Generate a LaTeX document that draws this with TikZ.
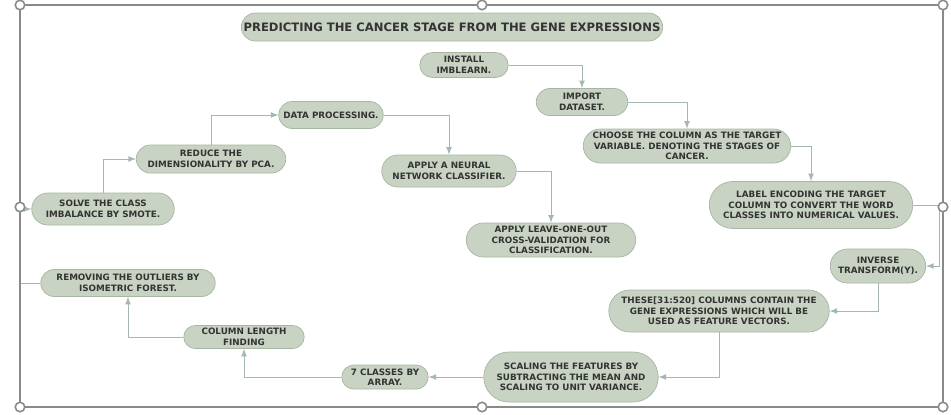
\documentclass[tikz,border=0pt]{standalone}
\usepackage{fontspec}
\setmainfont{DejaVu Sans}
\usetikzlibrary{shapes.misc}

\definecolor{pillfill}{HTML}{C9D3C4}
\definecolor{pillline}{HTML}{A6B6A2}
\definecolor{pilltext}{HTML}{333333}
\definecolor{connline}{HTML}{A3B8B0}
\definecolor{framegray}{HTML}{8A8A8A}

\tikzset{
pill/.style={
draw=pillline,
fill=pillfill,
rounded rectangle,
align=center,
inner sep=1pt,
text=pilltext,
font=\fontsize{5}{6}\selectfont\bfseries
},
conn/.style={
draw=connline,
line width=0.5pt,
-latex
},
handle/.style={
circle,
draw=framegray,
fill=white,
line width=0.9pt,
minimum size=0.19cm,
inner sep=0pt
}
}

\begin{document}
\begin{tikzpicture}[x=0.02cm,y=-0.02cm]

\useasboundingbox (0,0) rectangle (951,414);

\node[pill, minimum width=8.5cm, minimum height=0.56cm,
font=\fontsize{6.6}{7.5}\selectfont\bfseries] (T) at (452,27)
{PREDICTING THE CANCER STAGE FROM THE GENE EXPRESSIONS};

\node[pill, minimum width=1.84cm, minimum height=0.5cm] (In) at (464,65)
{INSTALL\\IMBLEARN.};

\node[pill, minimum width=1.9cm, minimum height=0.54cm] (Im) at (582,102)
{IMPORT\\DATASET.};

\node[pill, minimum width=4.22cm, minimum height=0.68cm] (Ch) at (687,146)
{CHOOSE THE COLUMN AS THE TARGET\\VARIABLE. DENOTING THE STAGES OF\\CANCER.};

\node[pill, minimum width=4.14cm, minimum height=0.94cm] (Le) at (811,205)
{LABEL ENCODING THE TARGET\\COLUMN TO CONVERT THE WORD\\CLASSES INTO NUMERICAL VALUES.};

\node[pill, minimum width=1.98cm, minimum height=0.68cm] (Iv) at (878,266)
{INVERSE\\TRANSFORM(Y).};

\node[pill, minimum width=4.48cm, minimum height=0.84cm] (Th) at (719,311)
{THESE[31:520] COLUMNS CONTAIN THE\\GENE EXPRESSIONS WHICH WILL BE\\USED AS FEATURE VECTORS.};

\node[pill, minimum width=3.56cm, minimum height=1cm] (Sc) at (571,377)
{SCALING THE FEATURES BY\\SUBTRACTING THE MEAN AND\\SCALING TO UNIT VARIANCE.};

\node[pill, minimum width=1.8cm, minimum height=0.48cm] (Cl) at (385,377)
{7 CLASSES BY\\ARRAY.};

\node[pill, minimum width=2.48cm, minimum height=0.46cm] (Co) at (244,337)
{COLUMN LENGTH\\FINDING};

\node[pill, minimum width=3.56cm, minimum height=0.54cm] (Ro) at (128,283)
{REMOVING THE OUTLIERS BY\\ISOMETRIC FOREST.};

\node[pill, minimum width=2.92cm, minimum height=0.64cm] (So) at (103,209)
{SOLVE THE CLASS\\IMBALANCE BY SMOTE.};

\node[pill, minimum width=3.06cm, minimum height=0.56cm] (Re) at (211,159)
{REDUCE THE\\DIMENSIONALITY BY PCA.};

\node[pill, minimum width=2.16cm, minimum height=0.54cm] (Dp) at (331,115)
{DATA PROCESSING.};

\node[pill, minimum width=2.76cm, minimum height=0.64cm] (Nn) at (449,171)
{APPLY A NEURAL\\NETWORK CLASSIFIER.};

\node[pill, minimum width=3.46cm, minimum height=0.68cm] (Lo) at (551,240)
{APPLY LEAVE-ONE-OUT\\CROSS-VALIDATION FOR\\CLASSIFICATION.};

% bends along the frame
\coordinate (rb) at (939,205);
\coordinate (lb) at (20,283);

\draw[conn] (In.east) -| (Im.north);
\draw[conn] (Im.east) -| (Ch.north);
\draw[conn] (Ch.east) -| (Le.north);
\draw[conn] (Le.east) -- (rb) |- (Iv.east);
\draw[conn] (Iv.south) |- (Th.east);
\draw[conn] (Th.south) |- (Sc.east);
\draw[conn] (Sc.west) -- (Cl.east);
\draw[conn] (Cl.west) -| (Co.south);
\draw[conn] (Co.west) -| (Ro.south);
\draw[conn] (Ro.west) -- (lb) |- (So.west);
\draw[conn] (So.north) |- (Re.west);
\draw[conn] (Re.north) |- (Dp.west);
\draw[conn] (Dp.east) -| (Nn.north);
\draw[conn] (Nn.east) -| (Lo.north);

% selection frame
\draw[framegray, line width=0.9pt] (20,5) rectangle (943,407);
\foreach \hx/\hy [count=\i] in {20/5,482/5,943/5,20/207,943/207,20/407,482/407,943/407}
\node[handle] (h\i) at (\hx,\hy) {};

\end{tikzpicture}
\end{document}
